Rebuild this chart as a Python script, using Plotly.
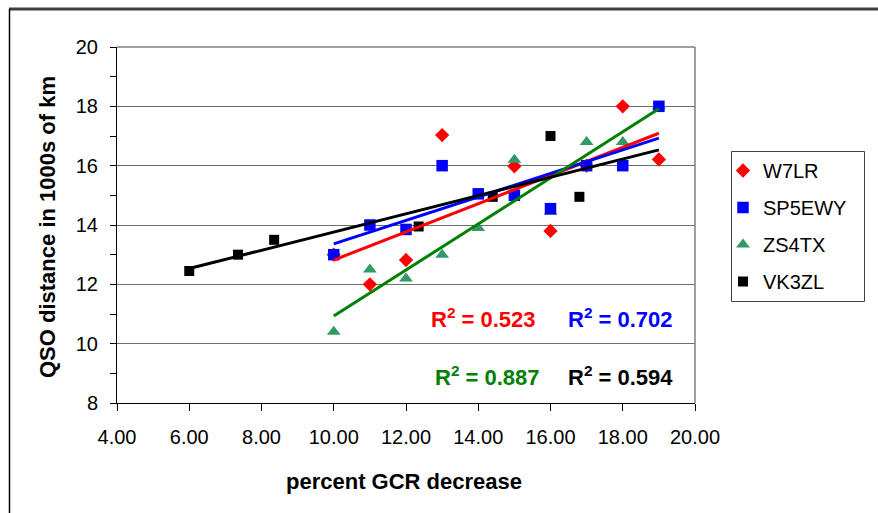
import numpy as np
import plotly.graph_objects as go

# ---- data ----
series_names = ["W7LR", "SP5EWY", "ZS4TX", "VK3ZL"]

w7lr_x = [10, 11, 12, 13, 15, 16, 17, 18, 19]
w7lr_y = [13.0, 12.0, 12.82, 17.03, 15.98, 13.8, 16.0, 18.0, 16.21]

sp5ewy_x = [10, 11, 12, 13, 14, 15, 16, 17, 18, 19]
sp5ewy_y = [13.0, 14.0, 13.85, 16.0, 15.05, 15.0, 14.55, 16.0, 16.0, 18.0]

zs4tx_x = [10, 11, 12, 13, 14, 15, 16, 17, 18, 19]
zs4tx_y = [10.4, 12.5, 12.2, 13.0, 13.9, 16.2, 14.45, 16.8, 16.8, 18.0]

vk3zl_x = [6.0, 7.35, 8.35, 12.35, 14.4, 16.0, 16.8]
vk3zl_y = [12.45, 13.0, 13.5, 13.95, 14.95, 17.0, 14.95]

r2_labels = ["0.523", "0.702", "0.887", "0.594"]

x_ticks = [4, 6, 8, 10, 12, 14, 16, 18, 20]
y_ticks = [8, 10, 12, 14, 16, 18, 20]

# ---- layout geometry ----
W, H = 878, 513
L, R, T, B = 117, 183, 47, 110
PW, PH = W - L - R, H - T - B

def px(xp):
    return (xp - L) / PW

def py(yp):
    return (H - B - yp) / PH

FONT = "Liberation Sans, Arial, sans-serif"

marker_styles = {
    "W7LR": dict(symbol="diamond", size=11, color="#FF0000"),
    "SP5EWY": dict(symbol="square", size=11.5, color="#0000FF"),
    "ZS4TX": dict(symbol="triangle-up", size=12, color="#339966"),
    "VK3ZL": dict(symbol="square", size=10, color="#000000"),
}
line_colors = {"W7LR": "#FF0000", "SP5EWY": "#0000FF", "ZS4TX": "#008000", "VK3ZL": "#000000"}

data = {
    "W7LR": (w7lr_x, w7lr_y),
    "SP5EWY": (sp5ewy_x, sp5ewy_y),
    "ZS4TX": (zs4tx_x, zs4tx_y),
    "VK3ZL": (vk3zl_x, vk3zl_y),
}

fig = go.Figure()

# marker traces (drawing order chosen so overlapping points hide like the reference)
draw_order = ["W7LR", "ZS4TX", "SP5EWY", "VK3ZL"]
for name in draw_order:
    xs, ys = data[name]
    fig.add_trace(go.Scatter(
        x=xs, y=ys, mode="markers", name=name,
        marker=dict(line=dict(width=0), **marker_styles[name]),
        legendgroup=name, legendrank=series_names.index(name) + 1,
        showlegend=True,
    ))

# linear trendlines fitted from the data
trend_end = max(max(v[0]) for v in data.values())
for name in series_names:
    xs, ys = data[name]
    m, c = np.polyfit(xs, ys, 1)
    xl = np.array([min(xs), trend_end])
    fig.add_trace(go.Scatter(
        x=xl, y=m * xl + c, mode="lines", name=name + " trend",
        line=dict(color=line_colors[name], width=3),
        legendgroup=name, legendrank=series_names.index(name) + 1,
        showlegend=False, hoverinfo="skip",
    ))

# R^2 annotations
r2_pos = [(483, 318), (620, 318), (487, 376), (620, 376)]
annotations = []
for name, lab, (ax, ay) in zip(series_names, r2_labels, r2_pos):
    annotations.append(dict(
        x=px(ax), y=py(ay), xref="paper", yref="paper",
        text=f"R<sup>2</sup> = {lab}", showarrow=False,
        xanchor="center", yanchor="middle",
        font=dict(family=FONT, size=22, color=line_colors[name], weight="bold"),
    ))

# axis titles
annotations.append(dict(
    x=px(47), y=py(227), xref="paper", yref="paper",
    text="QSO distance in 1000s of km", textangle=-90, showarrow=False,
    xanchor="center", yanchor="middle",
    font=dict(family=FONT, size=22, color="black", weight="bold"),
))
annotations.append(dict(
    x=px(404), y=py(481), xref="paper", yref="paper",
    text="percent GCR decrease", showarrow=False,
    xanchor="center", yanchor="middle",
    font=dict(family=FONT, size=22, color="black", weight="bold"),
))

shapes = [
    # outer chart border (top & left visible)
    dict(type="line", xref="paper", yref="paper", x0=px(9), x1=px(880), y0=py(9), y1=py(9),
         line=dict(color="#404040", width=3)),
    dict(type="line", xref="paper", yref="paper", x0=px(9.5), x1=px(9.5), y0=py(9), y1=py(515),
         line=dict(color="#000000", width=1.5)),
    # plot area frame (right & top)
    dict(type="line", xref="paper", yref="paper", x0=1, x1=1, y0=0, y1=1,
         line=dict(color="#808080", width=1.5)),
    dict(type="line", xref="paper", yref="paper", x0=0, x1=1, y0=1, y1=1,
         line=dict(color="#808080", width=1.5)),
    # legend frame
    dict(type="rect", xref="paper", yref="paper", x0=px(731.5), x1=px(864.5),
         y0=py(151.5), y1=py(301.5), line=dict(color="#404040", width=1),
         fillcolor="rgba(0,0,0,0)"),
]

fig.update_layout(
    width=W, height=H,
    margin=dict(l=L, r=R, t=T, b=B, pad=0, autoexpand=False),
    paper_bgcolor="white", plot_bgcolor="white",
    font=dict(family=FONT, size=20, color="black"),
    xaxis=dict(
        range=[4, 20], tickvals=x_ticks, tickformat=".2f",
        ticks="outside", ticklen=7, tickcolor="black", tickwidth=1,
        showline=True, linecolor="black", linewidth=1,
        showgrid=False, zeroline=False, ticklabelstandoff=9,
        tickfont=dict(family=FONT, size=20, color="black"),
    ),
    yaxis=dict(
        range=[8, 20], tickvals=y_ticks,
        ticks="outside", ticklen=6, tickcolor="black", tickwidth=1,
        minor=dict(dtick=1, tick0=8, ticks="outside", ticklen=6, tickcolor="black", showgrid=False),
        showline=True, linecolor="black", linewidth=1,
        showgrid=True, gridcolor="#6e6e6e", gridwidth=1,
        zeroline=False, ticklabelstandoff=8,
        tickfont=dict(family=FONT, size=20, color="black"),
    ),
    legend=dict(
        xref="container", yref="container",
        x=723 / W, y=1 - 151 / H, xanchor="left", yanchor="top",
        borderwidth=0, bgcolor="rgba(0,0,0,0)",
        font=dict(family=FONT, size=20, color="black"),
        tracegroupgap=8, traceorder="grouped",
        entrywidth=98, entrywidthmode="pixels",
    ),
    annotations=annotations,
    shapes=shapes,
    showlegend=True,
)

fig.write_html(
    "out.html",
    config={"displayModeBar": False},
    post_script="document.body.style.margin='0';document.body.style.overflow='hidden';",
)
